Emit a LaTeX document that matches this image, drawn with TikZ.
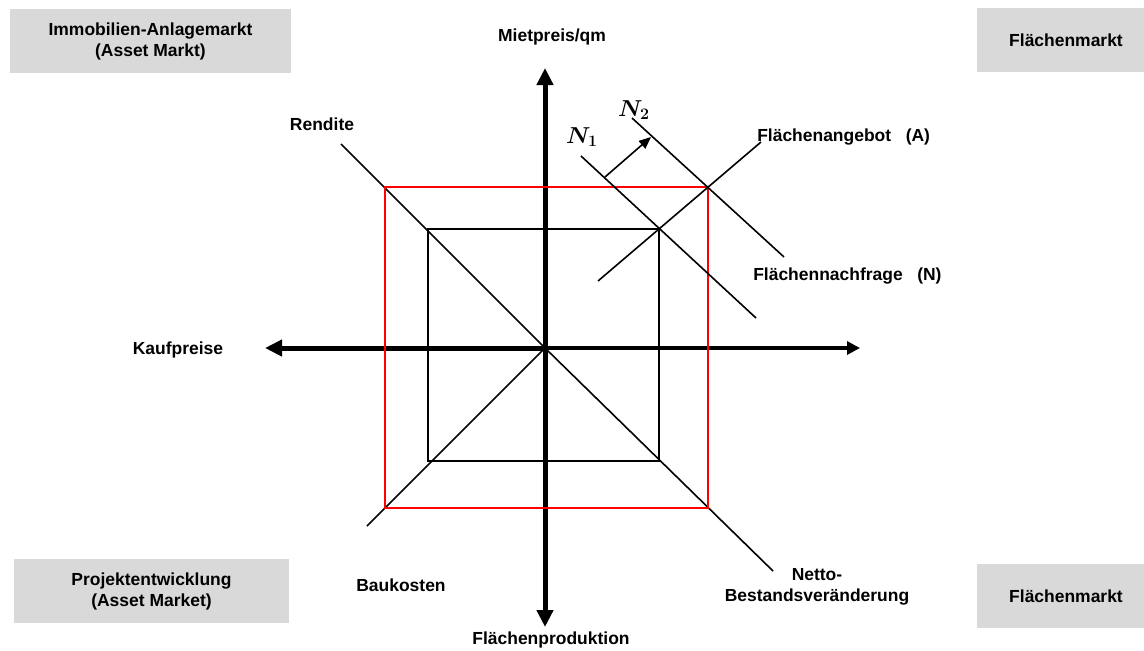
\documentclass[tikz,border=0pt]{standalone}
\usepackage{fontspec}
\setmainfont{Liberation Sans}
\usetikzlibrary{arrows.meta}

\begin{document}
\begin{tikzpicture}[x=0.75pt,y=-0.75pt]
\tikzstyle{every node}+=[inner sep=0pt,font=\bfseries\fontsize{13.1}{15.75}\selectfont]
\tikzstyle{marktbox}=[fill=black!15,minimum height=48pt,align=center]
\tikzstyle{achse}=[line width=3.75pt,-{Triangle[length=12.75pt,width=12pt]}]
\tikzstyle{kurve}=[line width=1.2pt]
\tikzstyle{kurvenname}=[font=\fontsize{16.5}{19}\selectfont\boldmath]
\useasboundingbox (0,0) rectangle (1144,650);
\node [marktbox,minimum width=210.75pt] (anlage) at (150.5,41) {Immobilien-Anlagemarkt\\(Asset Markt)};
\node [marktbox,minimum width=206.25pt] (projekt) at (151.5,591) {Projektentwicklung\\(Asset Market)};
\node [marktbox,minimum width=133.5pt] (flaecheo) at (1066,40) {Flächenmarkt};
\node [marktbox,minimum width=133.5pt] (flaecheu) at (1066,596) {Flächenmarkt};
\coordinate (O) at (545,348);
\coordinate (oben) at (545,68);
\coordinate (unten) at (545,627);
\coordinate (links) at (265,348);
\coordinate (rechts) at (860,348);
\draw [achse] (O) -- (oben);
\draw [achse] (O) -- (unten);
\draw [achse] (O) -- (links);
\draw [line width=2.6pt,-{Triangle[length=9.75pt,width=9.75pt]}] (O) -- (rechts);
\coordinate (rend) at (341,144);
\coordinate (bau) at (367,526);
\coordinate (bestand) at (773,571);
\draw [kurve] (rend) -- (O) -- (bestand);
\draw [kurve] (bau) -- (O);
\coordinate (s1) at (428,229);
\coordinate (s2) at (659,461);
\draw [black,line width=1.4pt] (s1) rectangle (s2);
\coordinate (r1) at (385,187);
\coordinate (r2) at (708,508);
\draw [red,line width=2.2pt] (r1) rectangle (r2);
\coordinate (a1) at (598,281);
\coordinate (a2) at (761,142);
\draw [kurve] (a1) -- (a2);
\coordinate (n1a) at (581,156);
\coordinate (n1b) at (756,318);
\draw [kurve] (n1a) -- (n1b);
\coordinate (n2a) at (632,118);
\coordinate (n2b) at (784,257);
\draw [kurve] (n2a) -- (n2b);
\coordinate (pfeila) at (605,177);
\coordinate (pfeilb) at (651,137);
\draw [kurve,-{Triangle[length=9pt,width=7.5pt]}] (pfeila) -- (pfeilb);
\node (mietpreis) at (552,37) {Mietpreis/qm};
\node (kaufpreise) at (178,350) {Kaufpreise};
\node (produktion) at (551,640) {Flächenproduktion};
\node (rendite) at (322,124) {Rendite};
\node (baukosten) at (401,585) {Baukosten};
\node [align=center] (netto) at (817,587) {Netto-\\Bestandsveränderung};
\node [anchor=west] (angebot) at (757,137) {Flächenangebot\ \ \ (A)};
\node [anchor=west] (nachfrage) at (753,276) {Flächennachfrage\ \ \ (N)};
\node [kurvenname] (nlabel1) at (582,137) {$N_1$};
\node [kurvenname] (nlabel2) at (634,110) {$N_2$};
\end{tikzpicture}
\end{document}
